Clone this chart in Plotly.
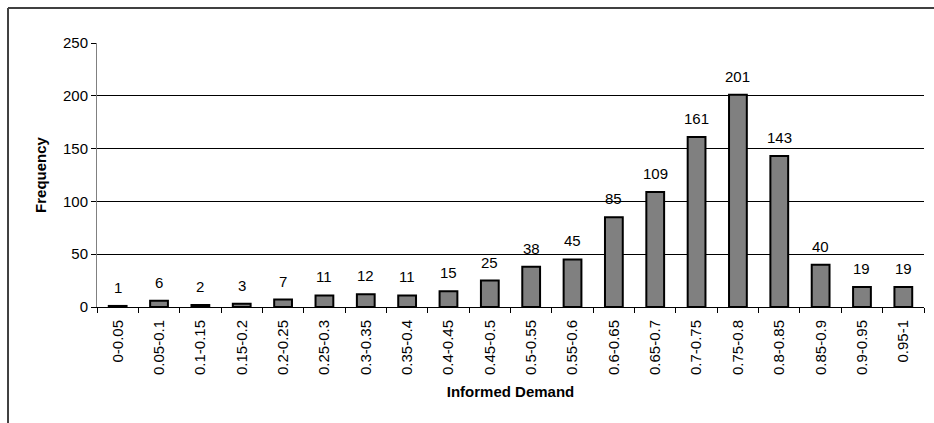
import plotly.graph_objects as go

# Histogram of informed demand, binned in 0.05 steps
bins = ["0-0.05", "0.05-0.1", "0.1-0.15", "0.15-0.2", "0.2-0.25", "0.25-0.3",
        "0.3-0.35", "0.35-0.4", "0.4-0.45", "0.45-0.5", "0.5-0.55", "0.55-0.6",
        "0.6-0.65", "0.65-0.7", "0.7-0.75", "0.75-0.8", "0.8-0.85", "0.85-0.9",
        "0.9-0.95", "0.95-1"]
frequency = [1, 6, 2, 3, 7, 11, 12, 11, 15, 25, 38, 45, 85, 109, 161, 201, 143, 40, 19, 19]
y_ticks = [0, 50, 100, 150, 200, 250]

FONT = "Liberation Sans, Arial, sans-serif"

fig = go.Figure()
fig.add_trace(go.Bar(
    x=bins,
    y=frequency,
    marker=dict(color="#808080", line=dict(color="black", width=2)),
    width=0.43,
    hoverinfo="x+y",
))

# value labels above each bar
for b, v in zip(bins, frequency):
    fig.add_annotation(x=b, y=v, text=str(v), showarrow=False,
                       yanchor="bottom", yshift=8,
                       font=dict(family=FONT, size=15, color="black"))

# chart frame (top and left edges)
fig.add_shape(type="line", xref="paper", yref="paper",
              x0=-0.1076, x1=1.05, y0=1.1326, y1=1.1326,
              line=dict(color="#404040", width=2))
fig.add_shape(type="line", xref="paper", yref="paper",
              x0=-0.1076, x1=-0.1076, y0=1.1326, y1=-0.6,
              line=dict(color="#404040", width=2))

fig.update_layout(
    width=934, height=423,
    margin=dict(l=97, r=10, t=43, b=116),
    paper_bgcolor="white", plot_bgcolor="white",
    showlegend=False,
    font=dict(family=FONT, size=15, color="black"),
    xaxis=dict(
        type="category",
        tickangle=-90,
        tickfont=dict(size=15),
        showline=True, linecolor="black", linewidth=1,
        ticks="outside", ticklen=5, tickcolor="black",
        tickson="boundaries",
        ticklabelstandoff=6,
        showgrid=False,
        title=dict(text="<b>Informed Demand</b>", font=dict(size=15), standoff=12),
    ),
    yaxis=dict(
        range=[0, 250],
        tickvals=y_ticks,
        tickfont=dict(size=15),
        showline=True, linecolor="#808080", linewidth=1,
        ticks="outside", ticklen=5, tickcolor="black",
        showgrid=True, gridcolor="black", gridwidth=1,
        zeroline=False,
        title=dict(text="<b>Frequency</b>", font=dict(size=15), standoff=12),
    ),
)

fig.write_html("out.html")
